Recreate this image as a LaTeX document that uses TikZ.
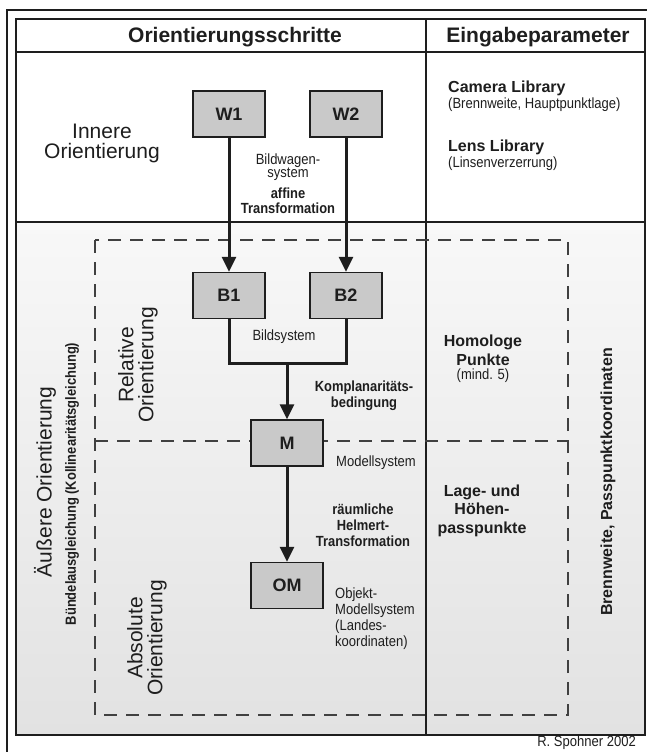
\documentclass[tikz,border=0pt]{standalone}
\usepackage{fontspec}
\setmainfont{Liberation Sans}
\newfontfamily\narrowsans[FakeStretch=0.88]{Liberation Sans}
\usetikzlibrary{arrows.meta}

\definecolor{ink}{HTML}{1E1E1E}
\definecolor{boxgray}{HTML}{C9C9C9}
\definecolor{shadetop}{HTML}{F8F8F8}
\definecolor{shadebot}{HTML}{E2E2E2}

\tikzset{
  stepbox/.style={draw=ink, line width=1.4pt, fill=boxgray,
    minimum width=72pt, minimum height=46pt, inner sep=0pt,
    font=\bfseries\fontsize{18}{20}\selectfont, text=ink},
  flow/.style={draw=ink, line width=3pt, -{Triangle[width=14pt,length=15pt]}},
  link/.style={draw=ink, line width=3pt, line join=miter},
  dashbox/.style={draw=ink!85, line width=1.3pt, dash pattern=on 13pt off 9pt},
  hdr/.style={font=\bfseries\fontsize{21}{25}\selectfont, text=ink, inner sep=0pt},
  big/.style={font=\fontsize{21}{20}\selectfont, align=center, text=ink, inner sep=0pt},
  small/.style={font=\narrowsans\fontsize{14.8}{16}\selectfont, text=ink, inner sep=0pt},
  smallbold/.style={font=\narrowsans\bfseries\fontsize{14.7}{16}\selectfont, text=ink,
    align=center, inner sep=0pt},
  param/.style={font=\bfseries\fontsize{16}{19}\selectfont, text=ink, align=center, inner sep=0pt}
}

\begin{document}
\begin{tikzpicture}[x=1pt, y=-1pt]
  \useasboundingbox (0,0) rectangle (647,752);

  % backgrounds
  \fill[white] (0,0) rectangle (647,752);
  \shade[top color=shadetop, bottom color=shadebot] (16,222) rectangle (645,735);

  % outer and inner frame
  \draw[ink, line width=1.6pt] (7,752) -- (7,10) -- (647,10);
  \draw[ink, line width=2pt] (16,19) rectangle (645,735);
  \draw[ink, line width=1.4pt] (16,52) -- (645,52);
  \draw[ink, line width=1.2pt] (16,222) -- (645,222);
  \draw[ink, line width=1.4pt] (426,19) -- (426,735);

  % dashed region of the exterior orientation
  \draw[dashbox] (95,240) rectangle (568,715);
  \draw[dashbox] (95,441) -- (568,441);

  % column headers
  \node[hdr] (hsteps) at (235,37) {Orientierungsschritte};
  \node[hdr] (hparam) at (538,37) {Eingabeparameter};

  % orientation steps
  \node[stepbox] (w1) at (229,114) {W1};
  \node[stepbox] (w2) at (346,114) {W2};
  \node[stepbox] (b1) at (229,295.5) {B1};
  \node[stepbox] (b2) at (346,295.5) {B2};
  \node[stepbox] (m)  at (287,443) {M};
  \node[stepbox] (om) at (287,585.5) {OM};
  \coordinate (join) at (287,363);

  \draw[flow] (w1) -- (b1);
  \draw[flow] (w2) -- (b2);
  \draw[link] (b1.south) |- (join) -| (b2.south);
  \draw[flow] (join) -- (m);
  \draw[flow] (m) -- (om);

  % labels along the flow
  \node[small, align=center, font=\narrowsans\fontsize{14.8}{12.5}\selectfont] (lwagen) at (288,167) {Bildwagen-\\system};
  \node[smallbold, font=\narrowsans\bfseries\fontsize{14.7}{15}\selectfont] (laffin) at (288,201) {affine\\Transformation};
  \node[small] (lbild) at (284,337) {Bildsystem};
  \node[smallbold] (lkompl) at (364,396) {Komplanaritäts-\\bedingung};
  \node[small, anchor=west] (lmodell) at (336,463) {Modellsystem};
  \node[smallbold] (lhelmert) at (363,525) {räumliche\\Helmert-\\Transformation};
  \node[small, anchor=west, align=left] (lobjekt) at (335,619) {Objekt-\\Modellsystem\\(Landes-\\koordinaten)};

  % names of the orientation stages
  \node[big] (tinnere) at (102,143) {Innere\\Orientierung};
  \node[big, rotate=90] (taeussere) at (45,482) {Äußere Orientierung};
  \node[smallbold, rotate=90] (tbuendel) at (72,484) {Bündelausgleichung (Kollinearitätsgleichung)};
  \node[big, rotate=90] (trelativ) at (138,365) {Relative\\Orientierung};
  \node[big, rotate=90] (tabsolut) at (147,638) {Absolute\\Orientierung};

  % input parameters
  \node[param, anchor=west] (pcam) at (448,88) {Camera Library};
  \node[small, anchor=west] (pcamd) at (448,105) {(Brennweite, Hauptpunktlage)};
  \node[param, anchor=west] (plens) at (448,147) {Lens Library};
  \node[small, anchor=west] (plensd) at (448,164) {(Linsenverzerrung)};
  \node[param] (phomol) at (483,350.5) {Homologe\\Punkte};
  \node[small] (pmind) at (483,376) {(mind. 5)};
  \node[param, font=\bfseries\fontsize{16}{18.5}\selectfont] (plage) at (482,510.5) {Lage- und\\Höhen-\\passpunkte};
  \node[param, rotate=90] (pbrenn) at (608,482) {Brennweite, Passpunktkoordinaten};

  % author line
  \node[small, anchor=east] (author) at (636,743) {R. Spohner 2002};
\end{tikzpicture}
\end{document}
